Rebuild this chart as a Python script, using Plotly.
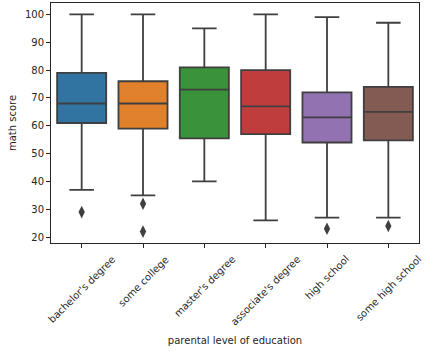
import plotly.graph_objects as go

categories = ["bachelor's degree", "some college", "master's degree",
              "associate's degree", "high school", "some high school"]
q1 = [61, 59, 55.5, 57, 54, 54.75]
median = [68, 68, 73, 67, 63, 65]
q3 = [79, 76, 81, 80, 72, 74]
lower_whisker = [37, 35, 40, 26, 27, 27]
upper_whisker = [100, 100, 95, 100, 99, 97]
outlier_cats = ["bachelor's degree", "some college", "some college",
                "high school", "some high school"]
outlier_vals = [29, 32, 22, 23, 24]
colors = ["#3274a1", "#e1812c", "#3a923a", "#c03d3e", "#9372b2", "#845b53"]

fig = go.Figure()
for i, c in enumerate(categories):
    fig.add_trace(go.Box(
        x=[c], q1=[q1[i]], median=[median[i]], q3=[q3[i]],
        lowerfence=[lower_whisker[i]], upperfence=[upper_whisker[i]],
        fillcolor=colors[i], line=dict(color="#3f3f3f", width=1.8),
        width=0.8, whiskerwidth=0.5, boxpoints=False, showlegend=False,
        hoverinfo="skip",
    ))

fig.add_trace(go.Scatter(
    x=outlier_cats, y=outlier_vals, mode="markers",
    marker=dict(symbol="diamond-tall", size=9, color="#3f3f3f"),
    showlegend=False, hoverinfo="skip",
))

for c in categories:
    fig.add_annotation(
        x=c, y=0, xref="x", yref="paper", text=c, showarrow=False,
        textangle=-45, xanchor="center", yanchor="top", yshift=-8,
        font=dict(family="DejaVu Sans", size=10, color="#262626"),
    )

fig.update_layout(
    width=429, height=351,
    margin=dict(l=51, r=10, t=3, b=108),
    plot_bgcolor="white", paper_bgcolor="white",
    font=dict(family="DejaVu Sans", size=10, color="#262626"),
    xaxis=dict(
        type="category", categoryorder="array", categoryarray=categories,
        range=[-0.5, 5.5], showticklabels=False, ticks="outside", ticklen=4,
        tickcolor="#262626", showline=True, linecolor="#262626", linewidth=1,
        mirror=True, showgrid=False, zeroline=False,
        title=dict(text="parental level of education", standoff=89,
                   font=dict(size=10)),
    ),
    yaxis=dict(
        range=[17.9, 104.1], tickvals=[20, 30, 40, 50, 60, 70, 80, 90, 100],
        ticks="outside", ticklen=4, tickcolor="#262626",
        showline=True, linecolor="#262626", linewidth=1, mirror=True,
        showgrid=False, zeroline=False,
        title=dict(text="math score", standoff=6, font=dict(size=10)),
    ),
)

fig.write_html("out.html")
